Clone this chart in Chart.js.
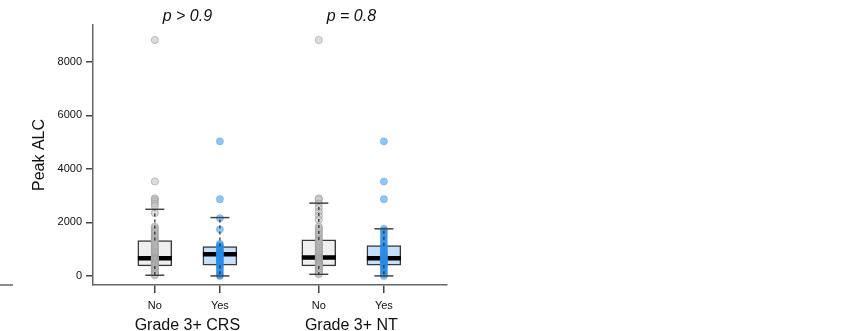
<!DOCTYPE html>
<html><head><meta charset="utf-8">
<script src="https://cdn.jsdelivr.net/npm/chart.js@4.4.1/dist/chart.umd.min.js"></script>
<style>html,body{margin:0;padding:0;background:#fff}#wrap{width:866px;height:331px}</style>
</head><body><div id="wrap"><canvas id="c"></canvas></div>
<script>
const cats=["No","Yes","No","Yes"];
const catX=[1,2,3.52,4.52];
const groupNames=["Grade 3+ CRS","Grade 3+ NT"];
const pValues=["p > 0.9","p = 0.8"];
const yTicks=[0,2000,4000,6000,8000];

/* box stats */
const q1=[374,400,374,400];
const med=[660,810,685,660];
const q3=[1320,1100,1345,1130];
const whiskLo=[25,0,60,0];
const whiskHi=[2490,2180,2720,1760];

/* individual patients */
const crsNo=[8820,3530,2900,2850,2780,2700,2620,2350,1840,1780,1700,1650,1580,1500,1450,1400,1350,1300,1250,1200,1150,1100,1050,1000,950,900,860,820,780,740,700,680,660,640,620,600,570,540,510,480,450,420,390,370,340,300,260,220,180,140,100,60,25];
const crsYes=[5030,2870,2160,1740,1200,1150,1100,1050,1000,950,900,870,840,810,780,740,700,650,600,550,500,450,400,350,300,230,150,80,20,0];
const ntNo=[8820,2900,2850,2700,2550,2400,2250,2100,1840,1780,1700,1620,1550,1480,1400,1350,1300,1250,1200,1150,1100,1050,1000,950,900,860,820,780,740,700,685,660,640,610,580,550,520,490,460,430,400,370,340,300,260,220,180,140,100,60];
const ntYes=[5030,3530,2870,1760,1700,1620,1540,1460,1380,1300,1220,1130,1080,1020,960,900,850,800,760,720,680,660,640,600,560,520,480,440,400,360,300,240,180,120,60,0];

const pts=[crsNo,crsYes,ntNo,ntYes];
const grayFill="rgba(196,196,196,0.6)",grayEdge="rgba(150,150,150,0.55)";
const blueFill="rgba(40,140,230,0.5)",blueEdge="rgba(40,140,230,0.3)";

Chart.defaults.font.family="'Liberation Sans', Arial, sans-serif";

let whiskData=[];
catX.forEach((x,i)=>{
whiskData.push({x:x,y:q3[i]},{x:x,y:whiskHi[i]},{x:x,y:null});
whiskData.push({x:x,y:q1[i]},{x:x,y:whiskLo[i]},{x:x,y:null});
});
let capData=[];
catX.forEach((x,i)=>{capData.push({x:x,y:whiskLo[i]},{x:x,y:whiskHi[i]});});

const pointSets=pts.map((arr,i)=>({
type:"scatter",
data:arr.map(v=>({x:catX[i],y:v})),
backgroundColor:i%2?blueFill:grayFill,
borderColor:i%2?blueEdge:grayEdge,
borderWidth:1,
pointRadius:3.6,
order:2
}));

const extras={
id:"extras",
afterDraw(chart){
const c=chart.ctx,xs=chart.scales.x;
c.save();
c.fillStyle="#111";
c.textAlign="center";
c.textBaseline="middle";
c.font="italic 16px 'Liberation Sans', Arial, sans-serif";
pValues.forEach((t,g)=>{
c.fillText(t,xs.getPixelForValue((catX[g*2]+catX[g*2+1])/2),17);
});
c.font="16px 'Liberation Sans', Arial, sans-serif";
c.textBaseline="alphabetic";
groupNames.forEach((t,g)=>{
c.fillText(t,xs.getPixelForValue((catX[g*2]+catX[g*2+1])/2),330);
});
c.strokeStyle="#666";c.lineWidth=1.5;
c.beginPath();c.moveTo(0,285);c.lineTo(13,285);c.stroke();
c.restore();
}
};

new Chart(document.getElementById("c"),{
type:"bar",
data:{datasets:[
{type:"line",data:whiskData,borderColor:"#333",borderWidth:1.3,borderDash:[3,3],pointRadius:0,spanGaps:false,order:1},
{type:"scatter",data:capData,pointStyle:"line",pointRadius:9.5,borderColor:"#444",borderWidth:1.5,order:1},
...pointSets,
{type:"scatter",data:catX.map((x,i)=>({x:x,y:med[i]})),pointStyle:"line",pointRadius:17,borderColor:"#000",borderWidth:4.5,order:3},
{type:"bar",data:catX.map((x,i)=>({x:x,y:[q1[i],q3[i]]})),backgroundColor:["#efefef","#c6dffa","#efefef","#c6dffa"],borderColor:"#3a3a3a",borderWidth:1.5,borderSkipped:false,barThickness:34,grouped:false,order:4}
]},
options:{
responsive:true,maintainAspectRatio:false,animation:false,
layout:{padding:{top:25,right:419,left:0,bottom:0}},
plugins:{legend:{display:false},tooltip:{enabled:false}},
scales:{
x:{type:"linear",min:0.05,max:5.49,offset:false,
afterFit:s=>{s.height=46;},
afterBuildTicks:s=>{s.ticks=catX.map(v=>({value:v}));},
ticks:{callback:(v,i)=>cats[i],font:{size:11},color:"#111",padding:6,maxRotation:0,autoSkip:false},
grid:{offset:false,drawOnChartArea:false,tickLength:8,color:"#444",lineWidth:1.5},
border:{color:"#666",width:1.5}},
y:{min:-340,max:9380,
afterFit:s=>{s.width=93;},
afterBuildTicks:s=>{s.ticks=yTicks.map(v=>({value:v}));},
ticks:{callback:v=>String(v),font:{size:11},color:"#111",padding:4},
grid:{drawOnChartArea:false,tickLength:7,color:"#444",lineWidth:1.5},
border:{color:"#666",width:1.5},
title:{display:true,text:"Peak ALC",font:{size:16},color:"#111",padding:{top:30,bottom:0}}}
}
},
plugins:[extras]
});
</script></body></html>
